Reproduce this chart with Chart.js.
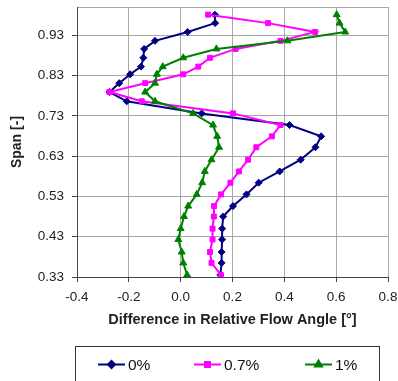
<!DOCTYPE html>
<html>
<head>
<meta charset="utf-8">
<script src="https://cdn.jsdelivr.net/npm/chart.js@4/dist/chart.umd.min.js"></script>
<style>
  html, body { margin: 0; padding: 0; background: #fff; }
  #wrap { width: 398px; height: 381px; }
</style>
</head>
<body>
<div id="wrap"><canvas id="flow-angle-chart" width="398" height="381"></canvas></div>
<script>
// span positions, shared by every traverse (top to bottom)
const spans = [0.981, 0.960, 0.938, 0.916, 0.896, 0.874, 0.852, 0.833, 0.811, 0.789,
  0.766, 0.736, 0.707, 0.679, 0.652, 0.621, 0.592, 0.564, 0.535, 0.506,
  0.480, 0.450, 0.423, 0.392, 0.365, 0.335]

// difference in relative flow angle [deg] per case
const diff0 = [0.132, 0.133, 0.027, -0.099, -0.141, -0.144, -0.153, -0.195, -0.237, -0.275,
  -0.208, 0.081, 0.420, 0.542, 0.520, 0.463, 0.382, 0.301, 0.254, 0.202,
  0.164, 0.160, 0.160, 0.158, 0.158, 0.153]
const diff07 = [0.106, 0.337, 0.519, 0.385, 0.212, 0.113, 0.068, 0.010, -0.137, -0.275,
  -0.150, 0.202, 0.385, 0.352, 0.292, 0.260, 0.225, 0.192, 0.156, 0.129,
  0.128, 0.123, 0.123, 0.113, 0.119, 0.155]
const diff1 = [0.602, 0.613, 0.635, 0.412, 0.138, 0.010, -0.069, -0.092, -0.099, -0.137,
  -0.099, 0.048, 0.125, 0.141, 0.148, 0.119, 0.093, 0.083, 0.062, 0.029,
  0.013, 0.000, -0.009, 0.004, 0.010, 0.025]

const caseLabels = ['0%', '0.7%', '1%']
const caseColors = ['#000080', '#ff00ff', '#008000']
const caseMarkers = ['rectRot', 'rect', 'triangle']

const spanTicks = [0.33, 0.43, 0.53, 0.63, 0.73, 0.83, 0.93, 1.0]

const FONT = 'Liberation Sans, Arial, sans-serif'

function pointsFrom(xs) {
  return xs.map((x, i) => ({x: x, y: spans[i]}))
}

function seriesFrom(i, xs) {
  return {
    label: caseLabels[i],
    data: pointsFrom(xs),
    showLine: true,
    borderColor: caseColors[i],
    backgroundColor: caseColors[i],
    borderWidth: 2,
    pointStyle: caseMarkers[i],
    pointRadius: i == 2 ? 4 : 3.5,
    pointBorderWidth: 1,
    tension: 0,
    order: 2 - i
  }
}

// tick labels should not push the plot area around
function noEdgePadding(scale) {
  scale.paddingTop = 0
  scale.paddingBottom = 0
  scale.paddingLeft = 0
  scale.paddingRight = 0
}

// boxed legend under the axis title
const boxLegend = {
  id: 'boxLegend',
  afterDraw(chart) {
    const ctx = chart.ctx
    ctx.save()
    ctx.strokeStyle = '#333'
    ctx.lineWidth = 1
    ctx.strokeRect(75.5, 346.5, 304, 40)
    const starts = [98, 194, 305]
    const y = 364.5
    chart.data.datasets.forEach((ds, i) => {
      const x0 = starts[i]
      ctx.strokeStyle = ds.borderColor
      ctx.lineWidth = 2
      ctx.beginPath()
      ctx.moveTo(x0, y)
      ctx.lineTo(x0 + 27, y)
      ctx.stroke()
      ctx.fillStyle = ds.backgroundColor
      Chart.helpers.drawPoint(ctx, {pointStyle: ds.pointStyle, radius: ds.pointRadius, borderWidth: 1}, x0 + 13.5, y)
      ctx.fill()
      ctx.fillStyle = '#111'
      ctx.font = '15.5px ' + FONT
      ctx.textBaseline = 'middle'
      ctx.fillText(ds.label, x0 + 30, y + 1)
    })
    ctx.restore()
  }
}

const context = document.getElementById('flow-angle-chart').getContext('2d')
new Chart(context, {
  type: 'scatter',
  data: {
    datasets: [seriesFrom(0, diff0), seriesFrom(1, diff07), seriesFrom(2, diff1)]
  },
  options: {
    responsive: false,
    animation: false,
    layout: {padding: {top: 7, right: 10, bottom: 44, left: 0}},
    plugins: {
      legend: {display: false},
      tooltip: {enabled: false}
    },
    scales: {
      x: {
        type: 'linear',
        min: -0.4,
        max: 0.8,
        afterFit: scale => { scale.height = 60; noEdgePadding(scale) },
        ticks: {
          stepSize: 0.2,
          padding: 7,
          color: '#222',
          font: {family: FONT, size: 13.5},
          callback: v => v.toFixed(1)
        },
        grid: {color: '#a8a8a8', tickColor: '#444', tickLength: 5},
        border: {color: '#444'},
        title: {
          display: true,
          text: 'Difference in Relative Flow Angle [°]',
          color: '#222',
          font: {family: FONT, size: 14.5, weight: 'bold'},
          padding: {top: 0, bottom: 8}
        }
      },
      y: {
        type: 'linear',
        min: 0.33,
        max: 1.0,
        afterFit: scale => { scale.width = 77; noEdgePadding(scale) },
        afterBuildTicks: scale => { scale.ticks = spanTicks.map(v => ({value: v})) },
        ticks: {
          padding: 8,
          color: '#222',
          font: {family: FONT, size: 13.5},
          callback: v => v >= 1 ? '' : v.toFixed(2)
        },
        grid: {
          color: '#a8a8a8',
          tickLength: 5,
          tickColor: c => (c.tick && c.tick.value >= 1) ? 'rgba(0,0,0,0)' : '#444'
        },
        border: {color: '#444'},
        title: {
          display: true,
          text: 'Span [-]',
          color: '#222',
          font: {family: FONT, size: 14, weight: 'bold'},
          padding: {top: 9, bottom: 0}
        }
      }
    }
  },
  plugins: [boxLegend]
})
</script>
</body>
</html>
